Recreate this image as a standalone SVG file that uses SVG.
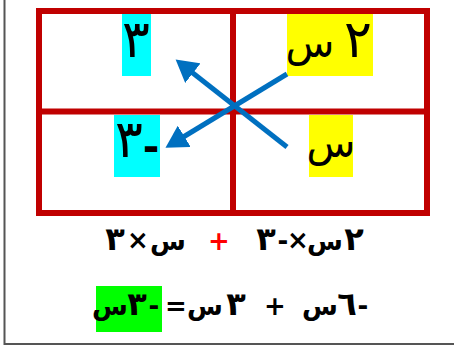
<svg xmlns="http://www.w3.org/2000/svg" width="454" height="347" viewBox="0 0 454 347">
<style>
.grid{fill:none;stroke:#C00000;stroke-width:6}
.cell{font-family:"DejaVu Sans",sans-serif;font-size:40px;fill:#000}
.celld{font-family:"DejaVu Sans",sans-serif;font-size:52px;fill:#000}
.eq{font-family:"DejaVu Sans",sans-serif;font-size:26px;font-weight:bold;fill:#000}
.eqd{font-family:"DejaVu Sans",sans-serif;font-size:32px;font-weight:bold;fill:#000}
.red{fill:#FF0000}
.arr{stroke:#0070C0;stroke-width:5;fill:none}
</style>
<defs>
<marker id="ah" markerWidth="5" markerHeight="5" refX="1" refY="2.5" orient="auto" markerUnits="strokeWidth">
<path d="M0,0 L4.4,2.5 L0,5 Z" fill="#0070C0"/>
</marker>
</defs>
<rect width="454" height="347" fill="#fff"/>
<path d="M4.5,0 V344 H454" fill="none" stroke="#555" stroke-width="2"/>
<g id="grid">
<rect class="grid" x="39" y="11" width="388" height="202"/>
<line class="grid" x1="233" y1="11" x2="233" y2="213"/>
<line class="grid" x1="39" y1="111.5" x2="427" y2="111.5"/>
</g>
<g id="cell-tl">
<rect x="122" y="14" width="29" height="62" fill="#00FFFF"/>
<text class="celld" x="136" y="57" text-anchor="middle">٣</text>
</g>
<g id="cell-tr">
<rect x="287" y="14" width="86" height="62" fill="#FFFF00"/>
<text class="cell" x="310" y="57" text-anchor="middle">س</text>
<text class="celld" x="358" y="57" text-anchor="middle">٢</text>
</g>
<g id="cell-bl">
<rect x="114" y="115" width="46" height="62" fill="#00FFFF"/>
<text class="celld" x="129" y="157" text-anchor="middle">٣</text>
<text class="cell" x="151" y="161" text-anchor="middle" font-weight="bold">-</text>
</g>
<g id="cell-br">
<rect x="309" y="115" width="44" height="62" fill="#FFFF00"/>
<text class="cell" x="331" y="157" text-anchor="middle">س</text>
</g>
<g id="connectors">
<line class="arr" x1="287" y1="147" x2="189" y2="70" marker-end="url(#ah)"/>
<line class="arr" x1="287" y1="74" x2="180" y2="139" marker-end="url(#ah)"/>
</g>
<g id="line1">
<text class="eqd" x="115" y="250" text-anchor="middle">٣</text>
<text class="eq" x="138" y="249" text-anchor="middle">×</text>
<text class="eq" x="168" y="250" text-anchor="middle">س</text>
<text class="eq red" x="219" y="250" text-anchor="middle">+</text>
<text class="eqd" x="266" y="250" text-anchor="middle">٣</text>
<text class="eq" x="283" y="250" text-anchor="middle">-</text>
<text class="eq" x="298" y="249" text-anchor="middle">×</text>
<text class="eq" x="325" y="250" text-anchor="middle">س</text>
<text class="eqd" x="354" y="250" text-anchor="middle">٢</text>
</g>
<g id="line2">
<rect x="96" y="286" width="66" height="46" fill="#00FF00"/>
<text class="eq" x="110" y="315" text-anchor="middle">س</text>
<text class="eqd" x="137" y="315" text-anchor="middle">٣</text>
<text class="eq" x="154" y="315" text-anchor="middle">-</text>
<text class="eq" x="176" y="315" text-anchor="middle">=</text>
<text class="eq" x="205" y="315" text-anchor="middle">س</text>
<text class="eqd" x="236" y="315" text-anchor="middle">٣</text>
<text class="eq" x="275" y="315" text-anchor="middle">+</text>
<text class="eq" x="320" y="315" text-anchor="middle">س</text>
<text class="eqd" x="347" y="315" text-anchor="middle">٦</text>
<text class="eq" x="363" y="315" text-anchor="middle">-</text>
</g>
</svg>
